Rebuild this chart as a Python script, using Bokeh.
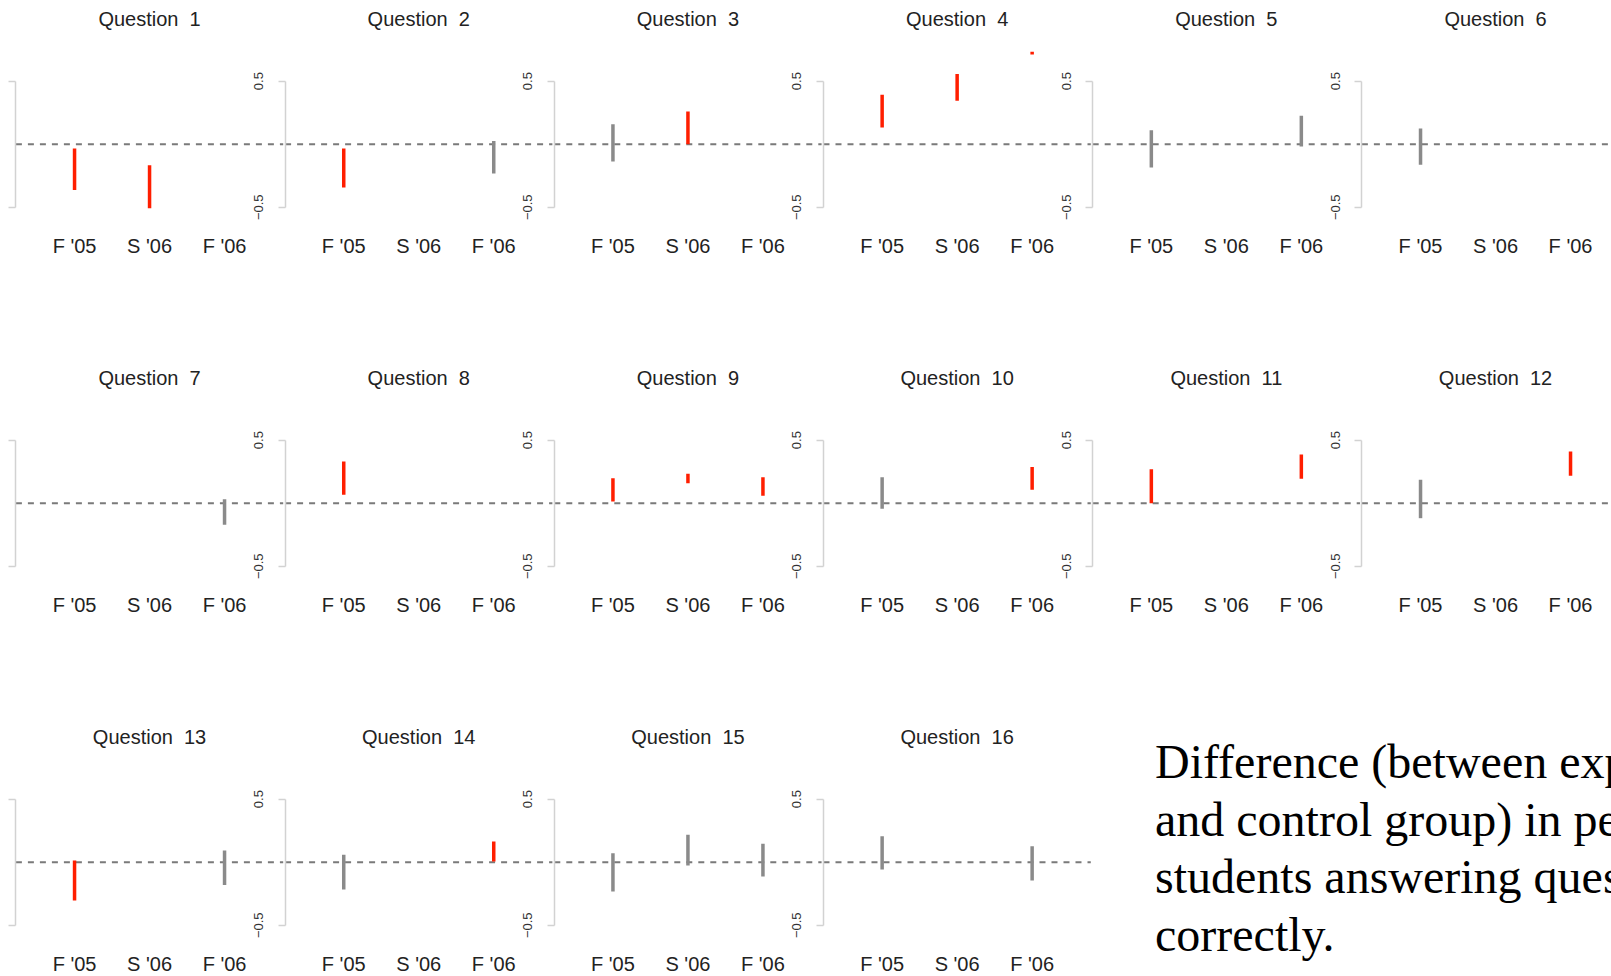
from bokeh.plotting import figure
from bokeh.models import Range1d, LinearAxis, FixedTicker, Div
from bokeh.layouts import column, row
from bokeh.embed import file_html
from bokeh.resources import INLINE

# ---------------- data ----------------
questions = [f"Question\u00a0 {i}" for i in range(1, 17)]
terms = ["F '05", "S '06", "F '06"]

# lower / upper ends of the difference interval for each question and term (None = no data)
f05_low  = [-0.364, -0.344, -0.138, 0.132, -0.185, -0.164, None, 0.066, 0.013, -0.045, 0.000, -0.119, -0.304, -0.217, -0.233, -0.058]
f05_high = [-0.035, -0.035,  0.159, 0.392,  0.111,  0.124, None, 0.331, 0.198,  0.206, 0.270,  0.185,  0.013,  0.058,  0.071,  0.206]
f05_sig  = [1, 1, 0, 1, 0, 0, 0, 1, 1, 0, 1, 0, 1, 0, 0, 0]

s06_low  = [-0.508, None, 0.000, 0.344, None, None, None, None, 0.159, None, None, None, None, None, -0.026, None]
s06_high = [-0.167, None, 0.259, 0.556, None, None, None, None, 0.233, None, None, None, None, None,  0.217, None]
s06_sig  = [1, 0, 1, 1, 0, 0, 0, 0, 1, 0, 0, 0, 0, 0, 0, 0]

f06_low  = [None, -0.233, None, 0.712, -0.019, None, -0.172, None, 0.058, 0.106, 0.193, 0.217, -0.180, 0.005, -0.114, -0.146]
f06_high = [None,  0.026, None, 0.900,  0.225, None,  0.032, None, 0.206, 0.286, 0.386, 0.410,  0.093, 0.164,  0.146,  0.127]
f06_sig  = [0, 0, 0, 1, 0, 0, 0, 0, 1, 1, 1, 1, 0, 1, 0, 0]

row_sizes = [6, 6, 4]
y_ticks = [-0.5, 0.5]

caption = ["Difference (between exp",
           "and control group) in pe",
           "students answering ques",
           "correctly."]

# ---------------- layout / style constants ----------------
W = 1611
W3 = 1100                   # width of the last row's plot (caption to its right)
PX_PER_UNIT = 75.0          # x pixels per term step
PX_PER_Y = 126.1            # y pixels per unit of difference
PITCH = 3.5893              # panel spacing in x units
USR = (0.218, 3.782)        # plot region of one panel in x units
X0 = 0.0127
Y_TOP = 0.735
Y_LABEL_LINE = -0.70        # where the term labels hang from
ROW_HEIGHTS = [359, 359, 258]
TOP = 51
RED = "#ff1e00"
GREY = "#8a8a8a"
AXIS_GREY = "#d2d2d2"
FONT = "Liberation Sans"

lows = [f05_low, s06_low, f06_low]
highs = [f05_high, s06_high, f06_high]
sigs = [f05_sig, s06_sig, f06_sig]

figs = []
q0 = 0
for r, n in enumerate(row_sizes):
    H = ROW_HEIGHTS[r]
    fw = W if r < 2 else W3
    frame_h = H - TOP
    p = figure(width=fw, height=H,
               x_range=Range1d(X0, X0 + fw / PX_PER_UNIT),
               y_range=Range1d(Y_TOP - frame_h / PX_PER_Y, Y_TOP),
               output_backend="svg", toolbar_location=None,
               x_axis_location=None, y_axis_location=None,
               min_border_left=0, min_border_right=0,
               min_border_top=TOP, min_border_bottom=0)
    p.outline_line_color = None
    p.grid.visible = False
    p.background_fill_color = "white"
    p.border_fill_color = "white"

    # zero reference line, one per panel
    p.segment(x0=[k * PITCH + USR[0] for k in range(n)], y0=[0] * n,
              x1=[k * PITCH + USR[1] for k in range(n)], y1=[0] * n,
              line_color="#7a7a7a", line_width=2.0, line_dash="6 6")

    # interval bars (clipped at the top of each panel)
    xs, y0s, y1s, cols = [], [], [], []
    for k in range(n):
        q = q0 + k
        for t in range(3):
            lo, hi = lows[t][q], highs[t][q]
            if lo is None:
                continue
            xs.append(k * PITCH + t + 1)
            y0s.append(lo)
            y1s.append(min(hi, Y_TOP))
            cols.append(RED if sigs[t][q] else GREY)
    p.segment(x0=xs, y0=y0s, x1=xs, y1=y1s, line_color=cols,
              line_width=3.5, line_cap="butt")

    # term labels below each panel
    ticks = []
    overrides = {}
    for k in range(n):
        for t in range(3):
            v = round(k * PITCH + t + 1, 4)
            ticks.append(v)
            overrides[v] = terms[t]
    xb = LinearAxis(fixed_location=Y_LABEL_LINE,
                    ticker=FixedTicker(ticks=ticks), major_label_overrides=overrides,
                    axis_line_color=None, major_tick_line_color=None,
                    minor_tick_line_color=None, major_tick_out=0, major_tick_in=0,
                    major_label_standoff=3,
                    major_label_text_font=FONT, major_label_text_font_size="20px",
                    major_label_text_color="#222222")
    p.add_layout(xb, "below")

    # panel titles above each panel
    tticks = []
    toverrides = {}
    for k in range(n):
        v = round(k * PITCH + 2, 4)
        tticks.append(v)
        toverrides[v] = questions[q0 + k]
    xa = LinearAxis(ticker=FixedTicker(ticks=tticks), major_label_overrides=toverrides,
                    axis_line_color=None, major_tick_line_color=None,
                    minor_tick_line_color=None, major_tick_out=0, major_tick_in=0,
                    major_label_standoff=22,
                    major_label_text_font=FONT, major_label_text_font_size="20px",
                    major_label_text_color="#222222")
    p.add_layout(xa, "above")

    # y axis bracket for each panel (the first one's labels lie outside the picture)
    for k in range(n):
        extra = {}
        if k == 0:
            extra["major_label_overrides"] = {-0.5: "", 0.5: ""}
        ya = LinearAxis(fixed_location=k * PITCH + USR[0], bounds=(-0.5, 0.5),
                        ticker=FixedTicker(ticks=y_ticks),
                        axis_line_color=AXIS_GREY, axis_line_width=1.5,
                        major_tick_line_color=AXIS_GREY, major_tick_line_width=1.5,
                        minor_tick_line_color=None,
                        major_tick_out=7, major_tick_in=0,
                        major_label_orientation="vertical",
                        major_label_standoff=15,
                        major_label_text_font=FONT, major_label_text_font_size="13px",
                        major_label_text_color="#333333", **extra)
        p.add_layout(ya, "left")

    figs.append(p)
    q0 += n

cap_html = ('<div style="font-family:\'Liberation Serif\',\'Times New Roman\',serif;'
            'font-size:48px;line-height:57.5px;white-space:nowrap;color:#000;'
            'padding:15px 0 0 55px;margin:0;">'
            + "<br>".join(caption) + "</div>")
cap = Div(text=cap_html, width=W - W3, height=ROW_HEIGHTS[2], margin=0,
          styles={"overflow": "hidden", "background-color": "white"})

layout = column(figs[0], figs[1], row(figs[2], cap, spacing=0), spacing=0)
open("out.html", "w").write(file_html(layout, INLINE))
